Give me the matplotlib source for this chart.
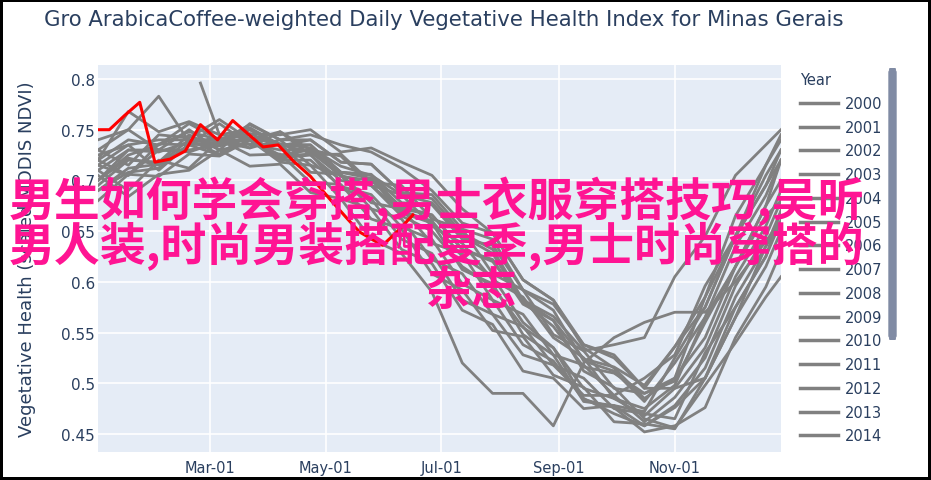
import matplotlib
matplotlib.use('Agg')
import matplotlib.pyplot as plt
from matplotlib.patches import FancyBboxPatch
import numpy as np

# dias del año (0 = 1 de enero) de cada composite
days = [0, 16, 32, 48, 64, 80, 96, 112, 128, 144, 160, 176,
        192, 208, 224, 240, 256, 272, 288, 304, 320, 336, 352, 360]
# 2000 empieza tarde (inicio de MODIS)
days_2000 = [54, 64, 80, 96, 112, 128, 144, 160, 176,
             192, 208, 224, 240, 256, 272, 288, 304, 320, 336, 352, 360]

y2000 = [0.796, 0.745, 0.742, 0.736, 0.732, 0.714, 0.705, 0.686, 0.678,
         0.645, 0.628, 0.580, 0.556, 0.516, 0.510, 0.490, 0.502, 0.560, 0.615, 0.665, 0.680]
y2001 = [0.720, 0.740, 0.735, 0.748, 0.740, 0.752, 0.735, 0.728, 0.705, 0.695, 0.665, 0.650,
         0.615, 0.595, 0.555, 0.535, 0.495, 0.485, 0.468, 0.495, 0.535, 0.605, 0.655, 0.690]
y2002 = [0.700, 0.722, 0.715, 0.735, 0.725, 0.740, 0.722, 0.725, 0.700, 0.695, 0.670, 0.660,
         0.625, 0.605, 0.560, 0.535, 0.485, 0.470, 0.458, 0.478, 0.515, 0.585, 0.635, 0.670]
y2003 = [0.740, 0.750, 0.783, 0.738, 0.742, 0.732, 0.748, 0.730, 0.724, 0.695, 0.686, 0.655,
         0.638, 0.602, 0.585, 0.545, 0.525, 0.485, 0.475, 0.498, 0.565, 0.615, 0.675, 0.700]
y2004 = [0.690, 0.708, 0.712, 0.735, 0.738, 0.755, 0.740, 0.745, 0.735, 0.728, 0.712, 0.690,
         0.658, 0.648, 0.602, 0.582, 0.535, 0.515, 0.485, 0.505, 0.545, 0.615, 0.675, 0.720]
y2005 = [0.715, 0.705, 0.730, 0.728, 0.738, 0.732, 0.740, 0.715, 0.705, 0.672, 0.662, 0.622,
         0.608, 0.568, 0.556, 0.518, 0.505, 0.475, 0.470, 0.465, 0.530, 0.575, 0.625, 0.660]
y2006 = [0.730, 0.715, 0.745, 0.742, 0.760, 0.740, 0.748, 0.725, 0.726, 0.698, 0.695, 0.662,
         0.652, 0.608, 0.592, 0.548, 0.532, 0.495, 0.490, 0.505, 0.585, 0.645, 0.715, 0.740]
y2007 = [0.700, 0.730, 0.728, 0.738, 0.740, 0.740, 0.718, 0.715, 0.682, 0.672, 0.632, 0.618,
         0.572, 0.558, 0.512, 0.505, 0.475, 0.478, 0.472, 0.525, 0.575, 0.645, 0.695, 0.730]
y2008 = [0.680, 0.706, 0.704, 0.726, 0.724, 0.740, 0.725, 0.730, 0.708, 0.706, 0.678, 0.676,
         0.642, 0.636, 0.592, 0.578, 0.538, 0.525, 0.495, 0.495, 0.505, 0.565, 0.615, 0.650]
y2009 = [0.720, 0.768, 0.748, 0.758, 0.745, 0.750, 0.735, 0.735, 0.708, 0.705, 0.672, 0.666,
         0.632, 0.620, 0.582, 0.566, 0.532, 0.538, 0.545, 0.605, 0.645, 0.705, 0.735, 0.750]
y2010 = [0.710, 0.690, 0.720, 0.712, 0.740, 0.725, 0.726, 0.698, 0.696, 0.662, 0.652, 0.608,
         0.592, 0.552, 0.546, 0.508, 0.496, 0.462, 0.460, 0.455, 0.505, 0.565, 0.635, 0.660]
y2011 = [0.695, 0.720, 0.718, 0.745, 0.730, 0.756, 0.740, 0.740, 0.718, 0.716, 0.688, 0.686,
         0.652, 0.642, 0.592, 0.572, 0.522, 0.512, 0.482, 0.520, 0.565, 0.635, 0.685, 0.720]
y2012 = [0.725, 0.735, 0.710, 0.736, 0.734, 0.741, 0.724, 0.726, 0.692, 0.682, 0.642, 0.628,
         0.582, 0.568, 0.528, 0.518, 0.488, 0.488, 0.462, 0.486, 0.525, 0.596, 0.645, 0.680]
y2013 = [0.700, 0.725, 0.735, 0.756, 0.740, 0.746, 0.734, 0.740, 0.718, 0.716, 0.688, 0.682,
         0.648, 0.632, 0.582, 0.562, 0.512, 0.496, 0.465, 0.456, 0.498, 0.540, 0.585, 0.605]
y2014 = [0.705, 0.684, 0.706, 0.710, 0.730, 0.714, 0.716, 0.688, 0.682, 0.642, 0.628, 0.590,
         0.520, 0.490, 0.490, 0.458, 0.520, 0.545, 0.560, 0.570, 0.570, 0.600, 0.640, 0.660]
y2015 = [0.730, 0.750, 0.730, 0.730, 0.735, 0.750, 0.735, 0.735, 0.708, 0.702, 0.668, 0.658,
         0.612, 0.598, 0.548, 0.528, 0.482, 0.478, 0.458, 0.476, 0.505, 0.575, 0.625, 0.670]
y2016 = [0.715, 0.735, 0.740, 0.740, 0.726, 0.746, 0.745, 0.750, 0.728, 0.732, 0.718, 0.705,
         0.672, 0.648, 0.602, 0.582, 0.538, 0.528, 0.495, 0.536, 0.585, 0.665, 0.715, 0.745]
y2017 = [0.690, 0.712, 0.716, 0.740, 0.736, 0.740, 0.720, 0.720, 0.694, 0.686, 0.654, 0.642,
         0.598, 0.582, 0.538, 0.522, 0.484, 0.476, 0.452, 0.458, 0.476, 0.545, 0.595, 0.630]
y2018 = [0.710, 0.730, 0.730, 0.750, 0.730, 0.736, 0.730, 0.730, 0.704, 0.700, 0.674, 0.666,
         0.632, 0.622, 0.578, 0.562, 0.524, 0.516, 0.498, 0.536, 0.575, 0.645, 0.695, 0.720]
y2019 = [0.720, 0.705, 0.736, 0.735, 0.756, 0.735, 0.736, 0.708, 0.706, 0.678, 0.672, 0.638,
         0.628, 0.582, 0.568, 0.528, 0.518, 0.488, 0.505, 0.528, 0.596, 0.645, 0.705, 0.730]

years = list(range(2000, 2020))
grey_series = [y2000, y2001, y2002, y2003, y2004, y2005, y2006, y2007, y2008, y2009,
               y2010, y2011, y2012, y2013, y2014, y2015, y2016, y2017, y2018, y2019]

# año actual (incompleto)
days_2020 = [0, 6, 14, 22, 30, 38, 46, 54, 63, 71, 79, 87, 95, 103, 112, 122,
             132, 138, 150, 158, 166]
y2020 = [0.750, 0.750, 0.764, 0.777, 0.718, 0.721, 0.729, 0.755, 0.740, 0.759, 0.746,
         0.733, 0.735, 0.719, 0.704, 0.682, 0.661, 0.649, 0.636, 0.650, 0.666]

tick_days = [59, 120, 181, 243, 304]
tick_names = ['Mar-01', 'May-01', 'Jul-01', 'Sep-01', 'Nov-01']
ytick_vals = [0.45, 0.5, 0.55, 0.6, 0.65, 0.7, 0.75, 0.8]

titulo = 'Gro ArabicaCoffee-weighted Daily Vegetative Health Index for Minas Gerais'
overlay = ['男生如何学会穿搭,男士衣服穿搭技巧,吴昕',
           '男人装,时尚男装搭配夏季,男士时尚穿搭的',
           '杂志']

W, H = 931, 481
txt = '#2a3f5f'
cjk = ['Noto Sans CJK SC', 'DejaVu Sans']

fig = plt.figure(figsize=(W / 100, H / 100), dpi=100)
fig.patch.set_facecolor('white')
fig.patch.set_edgecolor('black')
fig.patch.set_linewidth(3)

ax = fig.add_axes([98 / W, 1 - 453 / H, (781 - 98) / W, (453 - 66) / H])
ax.set_facecolor('#E5ECF6')
for s in ax.spines.values():
    s.set_visible(False)

lineas = []
for yr, vals in zip(years, grey_series):
    xd = days_2000 if yr == 2000 else days
    ln, = ax.plot(xd, vals, color='grey', lw=2, label=str(yr))
    lineas.append(ln)
ax.plot(days_2020, y2020, color='red', lw=2.2, label='2020', zorder=5)

ax.set_xlim(0, 360)
ax.set_ylim(0.4322, 0.8138)
ax.set_xticks(tick_days)
ax.set_xticklabels(tick_names)
ax.set_yticks(ytick_vals)
ax.set_yticklabels([('%g' % v) for v in ytick_vals])
ax.tick_params(axis='y', length=0, colors=txt, labelsize=11, pad=2)
ax.tick_params(axis='x', length=0, colors=txt, labelsize=10.5, pad=6)
ax.grid(True, color='white', lw=1.2)
ax.set_axisbelow(True)
ax.set_ylabel('Vegetative Health (scaled MODIS NDVI)', color=txt, fontsize=13, labelpad=18)

fig.text(44 / W, 1 - 20 / H, titulo, color=txt, fontsize=15.3, ha='left', va='center')

# leyenda (solo las primeras 15 entradas visibles)
leg = fig.legend(handles=lineas[:15], title='Year', loc='upper left',
                 bbox_to_anchor=(787 / W, 1 - 60 / H), frameon=False,
                 fontsize=10.5, title_fontsize=10.5, handlelength=2.6,
                 handletextpad=0.45, labelspacing=0.6, alignment='left')
for t in leg.get_texts():
    t.set_color(txt)
leg.get_title().set_color(txt)
for h in leg.legend_handles:
    h.set_linewidth(2.5)
leg.set_zorder(2)

# barra de scroll
fig.patches.append(FancyBboxPatch((889 / W, 1 - 340 / H), 7 / W, 270 / H,
                                  boxstyle='round,pad=0,rounding_size=0.007',
                                  transform=fig.transFigure, color='#808BA4'))

# texto superpuesto
fig.text(9 / W, 1 - 201 / H, overlay[0], color='#FF1493', fontsize=33, fontweight='bold',
         family=cjk, ha='left', va='center', zorder=10)
fig.text(9 / W, 1 - 246 / H, overlay[1], color='#FF1493', fontsize=33, fontweight='bold',
         family=cjk, ha='left', va='center', zorder=10)
fig.text(425 / W, 1 - 292 / H, overlay[2], color='#FF1493', fontsize=33, fontweight='bold',
         family=cjk, ha='left', va='center', zorder=10)

fig.savefig('out.png', dpi=100)
